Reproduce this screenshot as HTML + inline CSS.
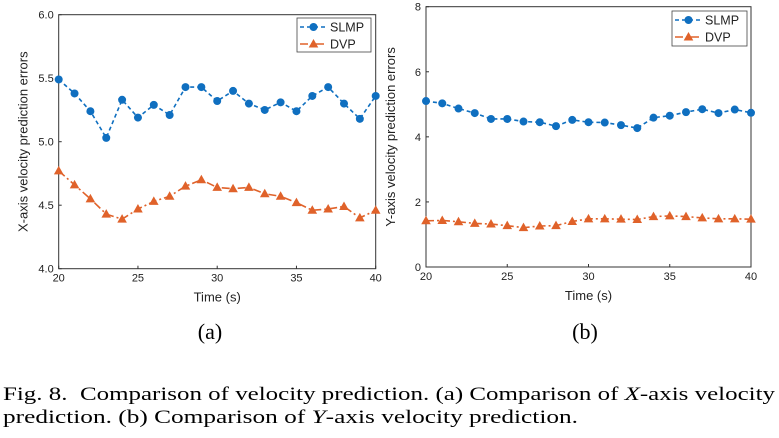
<!DOCTYPE html>
<html><head><meta charset="utf-8"><style>
html,body{margin:0;padding:0;background:#fff;}
svg{display:block;font-family:"Liberation Sans",sans-serif;}
.serif{font-family:"Liberation Serif",serif;}
</style></head><body>
<svg id="fig" width="779" height="438" xmlns="http://www.w3.org/2000/svg">
<g id="ca"></g>
<g id="cb"></g>
<text class="serif" x="210" y="339" font-size="22" text-anchor="middle">(a)</text>
<text class="serif" x="585" y="339" font-size="22" text-anchor="middle">(b)</text>
<text class="serif" x="3" y="400" font-size="19" textLength="772" lengthAdjust="spacingAndGlyphs">Fig. 8.&#160;&#160;Comparison of velocity prediction. (a) Comparison of <tspan font-style="italic">X</tspan>-axis velocity</text>
<text class="serif" x="3" y="423" font-size="19" textLength="575" lengthAdjust="spacingAndGlyphs">prediction. (b) Comparison of <tspan font-style="italic">Y</tspan>-axis velocity prediction.</text>
</svg>
<script>
const times = [20,21,22,23,24,25,26,27,28,29,30,31,32,33,34,35,36,37,38,39,40];
const slmpX = [5.49,5.38,5.24,5.03,5.33,5.19,5.29,5.21,5.43,5.43,5.32,5.40,5.30,5.25,5.31,5.24,5.36,5.43,5.30,5.18,5.36];
const dvpX = [4.77,4.66,4.55,4.43,4.39,4.47,4.53,4.57,4.65,4.70,4.64,4.63,4.64,4.59,4.57,4.52,4.46,4.47,4.49,4.40,4.46];
const slmpY = [5.10,5.03,4.87,4.73,4.55,4.55,4.47,4.45,4.33,4.52,4.45,4.44,4.36,4.27,4.59,4.65,4.76,4.85,4.73,4.84,4.74];
const dvpY = [1.42,1.43,1.39,1.34,1.32,1.27,1.21,1.26,1.27,1.40,1.48,1.48,1.47,1.46,1.55,1.57,1.55,1.51,1.48,1.48,1.47];
const xTicks = [20,25,30,35,40];
const yTicksA = [4.0,4.5,5.0,5.5,6.0];
const yTicksB = [0,2,4,6,8];
const NS='http://www.w3.org/2000/svg';
const BLUE='#0f6fc0', ORANGE='#e0622a';
function mk(p,tag,attrs){const e=document.createElementNS(NS,tag);for(const k in attrs)e.setAttribute(k,attrs[k]);p.appendChild(e);return e;}
function draw(g,cfg){
  const {L,R,T,B,ymin,ymax,yTicks,yfmt,ylabel,s1,s2,leg,pre}=cfg;
  const sx=v=>L+(v-20)/(40-20)*(R-L);
  const sy=v=>B-(v-ymin)/(ymax-ymin)*(B-T);
  const fr=mk(g,'rect',{x:L,y:T,width:R-L,height:B-T,fill:'none',stroke:'#333','stroke-width':1});
  
  
  xTicks.forEach(t=>{
    const ln=mk(g,'line',{x1:sx(t),x2:sx(t),y1:B,y2:B-3,stroke:'#333'});
    
    
    const tx=mk(g,'text',{x:sx(t),y:B+13,'font-size':11,'text-anchor':'middle',fill:'#222'});tx.textContent=t;
    
    
  });
  yTicks.forEach(t=>{
    const ln=mk(g,'line',{x1:L,x2:L+3,y1:sy(t),y2:sy(t),stroke:'#333'});
    
    
    const tx=mk(g,'text',{x:L-5,y:sy(t)+4,'font-size':11,'text-anchor':'end',fill:'#222'});tx.textContent=yfmt(t);
    
    
  });
  const xt=mk(g,'text',{x:(L+R)/2,y:B+33,'font-size':13,'text-anchor':'middle',fill:'#222'});xt.textContent='Time (s)';
  
  
  const cy=(T+B)/2, cx=L-31;
  const yt=mk(g,'text',{x:cx,y:cy,'font-size':13,'text-anchor':'middle',fill:'#222',transform:`rotate(-90 ${cx} ${cy})`});yt.textContent=ylabel;
  
  
  function series(vals,color,dash,marker,name){
    const sg=mk(g,'g',{});
    
    
    mk(sg,'polyline',{points:times.map((t,i)=>sx(t)+','+sy(vals[i])).join(' '),fill:'none',stroke:color,'stroke-width':1.6,'stroke-dasharray':dash});
    times.forEach((t,i)=>{
      const x=sx(t),y=sy(vals[i]);
      let m;
      if(marker==='c') m=mk(sg,'circle',{cx:x,cy:y,r:4,fill:color});
      else m=mk(sg,'polygon',{points:`${x},${y-5} ${x-4.8},${y+3.5} ${x+4.8},${y+3.5}`,fill:color});
      
      
    });
  }
  series(s1,BLUE,'4 3','c',pre+'-slmp-series');
  series(s2,ORANGE,'8 3 2 3','t',pre+'-dvp-series');
  const lg=mk(g,'g',{});
  
  
  mk(lg,'rect',{x:leg[0],y:leg[1],width:leg[2],height:leg[3],fill:'#fff',stroke:'#444','stroke-width':0.8});
  const rows=[['SLMP',BLUE,'4 3','c'],['DVP',ORANGE,'8 3 2 3','t']];
  rows.forEach((r,i)=>{
    const y=leg[1]+9+i*17, x0=leg[0]+3, x1=leg[0]+30, xm=(x0+x1)/2;
    const e=mk(lg,'g',{});
    
    
    mk(e,'line',{x1:x0,x2:x1,y1:y,y2:y,stroke:r[1],'stroke-width':1.6,'stroke-dasharray':r[2]});
    if(r[3]==='c') mk(e,'circle',{cx:xm,cy:y,r:4,fill:r[1]});
    else mk(e,'polygon',{points:`${xm},${y-5} ${xm-4.8},${y+3.5} ${xm+4.8},${y+3.5}`,fill:r[1]});
    const t=mk(e,'text',{x:x1+3,y:y+4.5,'font-size':12.5,fill:'#222'});t.textContent=r[0];
  });
}
draw(document.getElementById('ca'),{L:58.7,R:375.7,T:14.7,B:268.7,ymin:4,ymax:6,yTicks:yTicksA,yfmt:v=>v.toFixed(1),ylabel:'X-axis velocity prediction errors',s1:slmpX,s2:dvpX,leg:[297,18,74,34],pre:'x'});
draw(document.getElementById('cb'),{L:426,R:751,T:6.7,B:267,ymin:0,ymax:8,yTicks:yTicksB,yfmt:v=>String(v),ylabel:'Y-axis velocity prediction errors',s1:slmpY,s2:dvpY,leg:[672,11,75,35],pre:'y'});
</script>
</body></html>
